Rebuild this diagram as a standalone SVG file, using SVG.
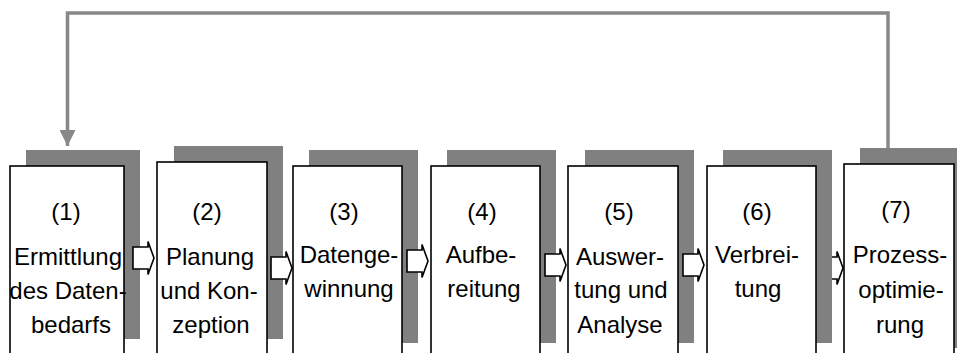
<svg xmlns="http://www.w3.org/2000/svg" width="957" height="353" viewBox="0 0 957 353">
<style>
.shadow{fill:#808080;}
.box{fill:#ffffff;stroke:#000000;stroke-width:1.6;}
.t{font-family:"Liberation Sans",Arial,sans-serif;font-size:24px;fill:#000000;text-anchor:middle;}
.flow{fill:#ffffff;stroke:#000000;stroke-width:1.6;stroke-linejoin:miter;}
.fb{fill:none;stroke:#888888;stroke-width:3.5;}
</style>
<defs>
<marker id="fbhead" viewBox="0 0 16 16" refX="16" refY="8" markerWidth="16" markerHeight="16" markerUnits="userSpaceOnUse" orient="auto">
<path d="M0,0 L16,8 L0,16 Z" fill="#888888"/>
</marker>
<path id="blk" d="M-21,-11 H-6 V-16.5 L0,0 L-6,16.5 V11 H-21 Z"/>
<clipPath id="clip67"><rect x="832" y="0" width="40" height="353"/></clipPath>
</defs>
<rect x="0" y="0" width="957" height="353" fill="#ffffff"/>

<g id="node1">
<rect class="shadow" x="26" y="150" width="114" height="189"/>
<rect class="box" x="10" y="166" width="114" height="200"/>
<text class="t" x="66" y="220">(1)</text>
<text class="t" x="68" y="265">Ermittlung</text>
<text class="t" x="68" y="299">des Daten-</text>
<text class="t" x="71" y="333">bedarfs</text>
</g>
<g id="node2">
<rect class="shadow" x="174" y="146" width="109" height="193"/>
<rect class="box" x="157" y="162" width="110" height="200"/>
<text class="t" x="207" y="220">(2)</text>
<text class="t" x="210" y="265">Planung</text>
<text class="t" x="209" y="299">und Kon-</text>
<text class="t" x="211" y="333">zeption</text>
</g>
<g id="node3">
<rect class="shadow" x="309" y="150" width="109" height="193"/>
<rect class="box" x="293" y="166" width="109" height="200"/>
<text class="t" x="344" y="220">(3)</text>
<text class="t" x="349" y="263">Datenge-</text>
<text class="t" x="349" y="297">winnung</text>
</g>
<g id="node4">
<rect class="shadow" x="447" y="150" width="109" height="193"/>
<rect class="box" x="431" y="166" width="109" height="200"/>
<text class="t" x="482" y="220">(4)</text>
<text class="t" x="481" y="263">Aufbe-</text>
<text class="t" x="484" y="297">reitung</text>
</g>
<g id="node5">
<rect class="shadow" x="585" y="150" width="109" height="193"/>
<rect class="box" x="568" y="166" width="110" height="200"/>
<text class="t" x="619" y="220">(5)</text>
<text class="t" x="620" y="265">Auswer-</text>
<text class="t" x="621" y="298">tung und</text>
<text class="t" x="620" y="333">Analyse</text>
</g>
<g id="node6">
<rect class="shadow" x="723" y="150" width="109" height="193"/>
<rect class="box" x="707" y="166" width="109" height="200"/>
<text class="t" x="757" y="220">(6)</text>
<text class="t" x="757" y="263">Verbrei-</text>
<text class="t" x="758" y="297">tung</text>
</g>
<g id="node7">
<rect class="shadow" x="860" y="148" width="109" height="200"/>
<rect class="box" x="844" y="164" width="110" height="200"/>
<text class="t" x="896" y="218">(7)</text>
<text class="t" x="900" y="263">Prozess-</text>
<text class="t" x="901" y="298">optimie-</text>
<text class="t" x="900" y="333">rung</text>
</g>

<g id="connectors">
<use href="#blk" class="flow" transform="translate(154,258)"/>
<use href="#blk" class="flow" transform="translate(292,268)"/>
<use href="#blk" class="flow" transform="translate(428,261)"/>
<use href="#blk" class="flow" transform="translate(566,265)"/>
<use href="#blk" class="flow" transform="translate(704,265)"/>
<g clip-path="url(#clip67)"><use href="#blk" class="flow" transform="translate(843,268)"/></g>
<polyline class="fb" points="888,148 888,13 67.5,13 67.5,146" marker-end="url(#fbhead)"/>
</g>
</svg>
